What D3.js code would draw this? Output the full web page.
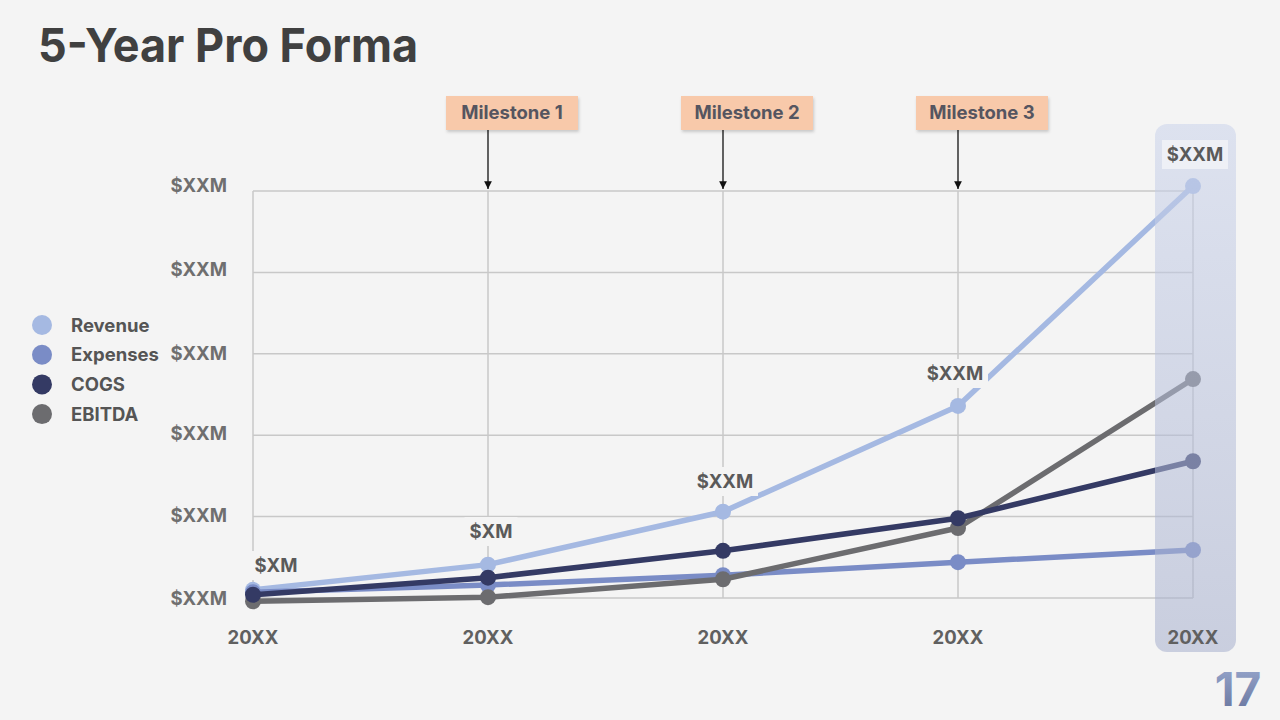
<!DOCTYPE html>
<html><head><meta charset="utf-8">
<script src="https://cdn.jsdelivr.net/npm/d3@7"></script>
<style>
html,body{margin:0;padding:0;background:#f4f4f4;}
svg{display:block;}
text{font-family:Inter,"Open Sans",sans-serif;}
</style></head>
<body>
<svg id="chart" width="1280" height="720"></svg>
<script>
const years = ["20XX","20XX","20XX","20XX","20XX"];
const yTickLabels = ["$XXM","$XXM","$XXM","$XXM","$XXM","$XXM"];
const revenue  = [0.10, 0.41, 1.06, 2.36, 5.06];
const expenses = [0.07, 0.16, 0.28, 0.44, 0.59];
const cogs     = [0.04, 0.25, 0.58, 0.98, 1.68];
const ebitda   = [-0.04, 0.01, 0.23, 0.86, 2.69];
const seriesNames = ["Revenue","Expenses","COGS","EBITDA"];
const seriesColors = ["#a5b9e2","#7a8cc6","#343a64","#6c6c6f"];
const pointLabels = ["$XM","$XM","$XXM","$XXM","$XXM"];
const milestones = ["Milestone 1","Milestone 2","Milestone 3"];
const milestoneIndex = [1,2,3];

const svg = d3.select("#chart");
const defs = svg.append("defs");
const W=1280,H=720;
const FS = 18.5;
svg.append("rect").attr("width",W).attr("height",H).attr("fill","#f4f4f4");

// title
svg.append("text").attr("x",38).attr("y",62).text("5-Year Pro Forma")
  .attr("font-family","Roboto").attr("font-weight",700).attr("font-size",47)
  .attr("textLength",380).attr("lengthAdjust","spacingAndGlyphs").attr("fill","#404040");

const x = d3.scalePoint().domain(d3.range(years.length)).range([253,1193]);
const y = d3.scaleLinear().domain([0,5]).range([598,191]);

// grid
const g = svg.append("g");
g.selectAll(".hg").data(d3.range(6)).join("line")
  .attr("x1",253).attr("x2",1193).attr("y1",d=>y(d)).attr("y2",d=>y(d))
  .attr("stroke","#c8c8c8").attr("stroke-width",1.5);
g.selectAll(".vg").data(d3.range(years.length)).join("line")
  .attr("x1",d=>x(d)).attr("x2",d=>x(d)).attr("y1",191).attr("y2",598)
  .attr("stroke","#c8c8c8").attr("stroke-width",1.5);

// y labels
const yOff = [7,5,5,6,4,1];
svg.selectAll(".yl").data(yTickLabels).join("text")
  .attr("x",227).attr("y",(d,i)=>y(i)+yOff[i])
  .attr("text-anchor","end").attr("font-weight",700).attr("font-size",FS).attr("fill","#6f6f6f")
  .text(d=>d);

// milestones
const shadow = defs.append("filter").attr("id","sh").attr("x","-20%").attr("y","-30%").attr("width","140%").attr("height","170%");
shadow.append("feDropShadow").attr("dx",1).attr("dy",2).attr("stdDeviation",1.5).attr("flood-color","#000").attr("flood-opacity",0.18);
defs.append("marker").attr("id","arr").attr("viewBox","0 0 10 10").attr("refX",10).attr("refY",5)
  .attr("markerWidth",6).attr("markerHeight",6).attr("orient","auto")
  .append("path").attr("d","M0,0L10,5L0,10Z").attr("fill","#111");
milestones.forEach((m,k)=>{
  const cx = x(milestoneIndex[k]);
  svg.append("line").attr("x1",cx).attr("x2",cx).attr("y1",130).attr("y2",189)
    .attr("stroke","#111").attr("stroke-width",1.3).attr("marker-end","url(#arr)");
  svg.append("rect").attr("x",cx-42).attr("y",96).attr("width",132).attr("height",34)
    .attr("fill","#f8c9aa").attr("filter","url(#sh)");
  svg.append("text").attr("x",cx+24).attr("y",119).attr("text-anchor","middle")
    .attr("font-weight",700).attr("font-size",FS).attr("fill","#555560").text(m);
});

// lines
const data = [revenue,expenses,cogs,ebitda];
const order = [0,1,3,2];
const line = d3.line().x((d,i)=>x(i)).y(d=>y(d));
order.forEach(s=>{
  svg.append("path").datum(data[s]).attr("d",line).attr("fill","none")
    .attr("stroke",seriesColors[s]).attr("stroke-width",5.5).attr("stroke-linejoin","round");
  svg.selectAll(".p"+s).data(data[s]).join("circle")
    .attr("cx",(d,i)=>x(i)).attr("cy",d=>y(d)).attr("r",8).attr("fill",seriesColors[s]);
});

// highlight band
const grad = defs.append("linearGradient").attr("id","band").attr("x1",0).attr("y1",0).attr("x2",0).attr("y2",1);
grad.append("stop").attr("offset","0%").attr("stop-color","rgb(202,211,235)").attr("stop-opacity",0.55);
grad.append("stop").attr("offset","100%").attr("stop-color","rgb(166,175,205)").attr("stop-opacity",0.55);
svg.append("rect").attr("x",x(4)-38).attr("y",124).attr("width",81).attr("height",528).attr("rx",12)
  .attr("fill","url(#band)");

// point labels (revenue)
const lblPos = [[276,565],[491,531],[725,481],[955,373],[1195,154]];
pointLabels.forEach((t,i)=>{
  const [lx,ly]=lblPos[i];
  const w = t.length*13+14;
  svg.append("rect").attr("x",lx-w/2).attr("y",ly-14).attr("width",w).attr("height",29)
    .attr("fill", i===4 ? "#eef0f6" : "#f4f4f4");
  svg.append("text").attr("x",lx).attr("y",ly+6.5).attr("text-anchor","middle")
    .attr("font-weight",700).attr("font-size",FS).attr("fill","#5a5a5a").text(t);
});

// x labels
svg.selectAll(".xl").data(years).join("text")
  .attr("x",(d,i)=>x(i)).attr("y",643.5).attr("text-anchor","middle")
  .attr("font-weight",700).attr("font-size",FS).attr("fill","#606060").text(d=>d);

// legend
const leg = svg.append("g");
seriesNames.forEach((n,i)=>{
  const ly = 325 + i*29.7;
  leg.append("circle").attr("cx",42).attr("cy",ly).attr("r",10).attr("fill",seriesColors[i]);
  leg.append("text").attr("x",71).attr("y",ly+6.5)
    .attr("font-weight",700).attr("font-size",FS).attr("fill","#555555").text(n);
});

// page number
const pg = defs.append("linearGradient").attr("id","pg").attr("x1",0).attr("y1",0).attr("x2",0).attr("y2",1);
pg.append("stop").attr("offset","0%").attr("stop-color","#9aaad0");
pg.append("stop").attr("offset","100%").attr("stop-color","#65719a");
svg.append("text").attr("x",1238).attr("y",706).attr("text-anchor","middle")
  .attr("font-family","Roboto").attr("font-weight",700).attr("font-size",46).attr("fill","url(#pg)").text("17");
</script>
</body></html>
